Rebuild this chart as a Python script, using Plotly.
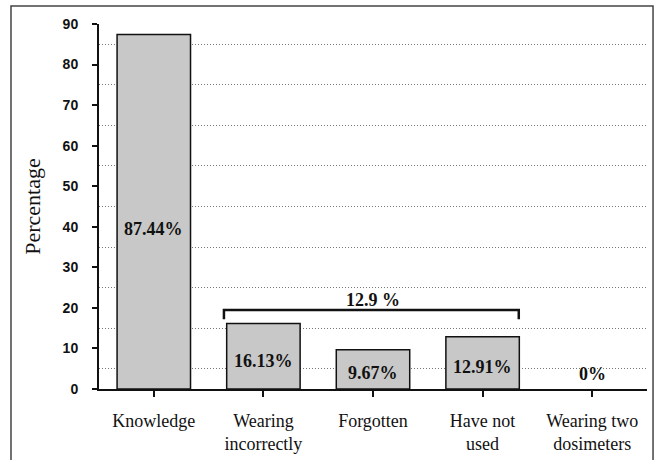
import plotly.graph_objects as go

categories = ["Knowledge", "Wearing<br>incorrectly", "Forgotten", "Have not<br>used", "Wearing two<br>dosimeters"]
values = [87.44, 16.13, 9.67, 12.91, 0]
value_labels = ["87.44%", "16.13%", "9.67%", "12.91%", "0%"]
group_label = "12.9 %"
y_ticks = [0, 10, 20, 30, 40, 50, 60, 70, 80, 90]

xpos = list(range(len(categories)))
# label vertical placement (layout)
label_y = [39.5, 7.0, 4.0, 5.5, 3.7]

fig = go.Figure()
fig.add_trace(go.Bar(
    x=xpos, y=values, width=0.67,
    marker=dict(color="#c8c8c8",
                line=dict(color="#111111", width=[1.5 if v > 0 else 0 for v in values])),
    hoverinfo="skip",
))

serif = "Liberation Serif"
for xi, yl, t in zip(xpos, label_y, value_labels):
    fig.add_annotation(x=xi, y=yl, text=f"<b>{t}</b>", showarrow=False,
                       font=dict(family=serif, size=18, color="#111"))

# bracket spanning bars 1..3
fig.add_trace(go.Scatter(
    x=[0.64, 0.64, 3.33, 3.33], y=[17.2, 19.5, 19.5, 17.2],
    mode="lines", line=dict(color="#111", width=2.5), hoverinfo="skip",
))
fig.add_annotation(x=2, y=19.5, yshift=10, text=f"<b>{group_label}</b>", showarrow=False,
                   font=dict(family=serif, size=18, color="#111"))

# outer frame
fig.add_shape(type="rect", xref="paper", yref="paper",
              x0=-0.1606, x1=1.011, y0=-0.25, y1=1.0493,
              line=dict(color="#444", width=1.5), layer="below")

fig.update_layout(
    width=657, height=460,
    margin=dict(l=99, r=10, t=24, b=71, autoexpand=False),
    paper_bgcolor="white", plot_bgcolor="white",
    showlegend=False,
    xaxis=dict(
        range=[-0.5, 4.5], tickmode="array", tickvals=xpos, ticktext=categories,
        showline=True, linecolor="#111", linewidth=2,
        ticks="outside", ticklen=6, tickwidth=2, tickcolor="#111",
        showgrid=False, zeroline=False, automargin=False,
        tickfont=dict(family=serif, size=18, color="#111"),
        ticklabelstandoff=8,
    ),
    yaxis=dict(
        range=[0, 90], tickmode="array", tickvals=y_ticks,
        showline=True, linecolor="#111", linewidth=2,
        ticks="outside", ticklen=5, tickwidth=2, tickcolor="#111",
        showgrid=False, zeroline=False, automargin=False,
        tickfont=dict(family="Liberation Sans", size=14, color="#111", weight="bold"),
        ticklabelstandoff=11,
        title=dict(text="Percentage", font=dict(family=serif, size=22, color="#111"), standoff=16),
        minor=dict(tick0=5, dtick=10, showgrid=True, gridcolor="#777", griddash="1px,2px",
                   gridwidth=1, ticks=""),
    ),
)

fig.write_html("out.html", post_script="document.body.style.margin='0';",
               config={"displayModeBar": False})
